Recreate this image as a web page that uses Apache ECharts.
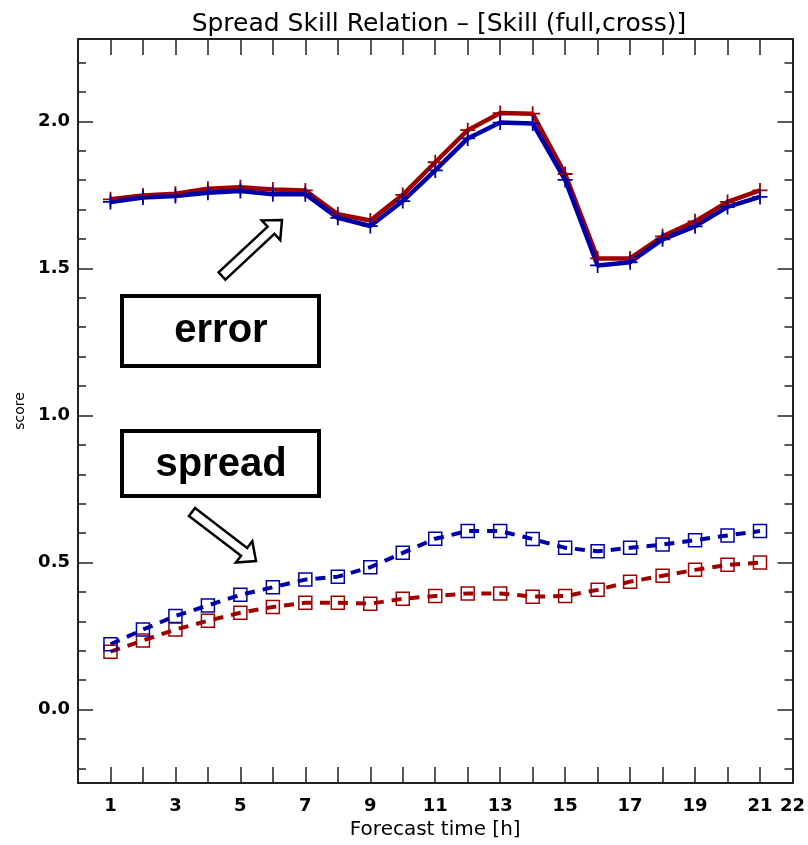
<!DOCTYPE html>
<html>
<head>
<meta charset="utf-8">
<script src="https://cdn.jsdelivr.net/npm/echarts@6/dist/echarts.min.js"></script>
<style>
  html, body { margin: 0; padding: 0; background: #ffffff; }
  #chart { width: 808px; height: 845px; }
</style>
</head>
<body>
<div id="chart"></div>
<script>
// forecast hours on the x axis
var hours = [1, 2, 3, 4, 5, 6, 7, 8, 9, 10, 11, 12, 13, 14, 15, 16, 17, 18, 19, 20, 21];

// error curves (solid, + markers)
var errorRed  = [1.735, 1.748, 1.754, 1.771, 1.776, 1.768, 1.765, 1.684, 1.663, 1.750, 1.861,
                 1.970, 2.028, 2.026, 1.821, 1.534, 1.534, 1.609, 1.660, 1.726, 1.765];
var errorBlue = [1.726, 1.741, 1.746, 1.757, 1.763, 1.752, 1.752, 1.672, 1.644, 1.729, 1.833,
                 1.942, 1.996, 1.993, 1.801, 1.510, 1.521, 1.599, 1.643, 1.709, 1.743];

// spread curves (dashed, square markers)
var spreadRed  = [0.197, 0.235, 0.272, 0.302, 0.329, 0.349, 0.363, 0.363, 0.360, 0.377, 0.386,
                  0.395, 0.395, 0.384, 0.386, 0.407, 0.435, 0.455, 0.475, 0.492, 0.500];
var spreadBlue = [0.222, 0.272, 0.318, 0.354, 0.390, 0.416, 0.442, 0.452, 0.484, 0.533, 0.581,
                  0.607, 0.607, 0.580, 0.550, 0.538, 0.550, 0.561, 0.576, 0.592, 0.607];

// tick labels
var xLabelValues = [1, 3, 5, 7, 9, 11, 13, 15, 17, 19, 21, 22];
var yLabelValues = [0, 0.5, 1.0, 1.5, 2.0];

var RED = '#a00000';
var BLUE = '#0000a8';
var FRAME = '#222222';
var PLUS = 'path://M4.4,0h1.2v10h-1.2z M0,4.4h10v1.2h-10z';

function pairs(xs, ys) {
  return xs.map(function (x, i) { return [x, ys[i]]; });
}

// hollow block arrow as a polygon
function arrowPoints(tail, tip, shaftW, headW, headL) {
  var dx = tip[0] - tail[0], dy = tip[1] - tail[1];
  var len = Math.sqrt(dx * dx + dy * dy);
  var ux = dx / len, uy = dy / len, nx = -uy, ny = ux;
  var bx = tip[0] - ux * headL, by = tip[1] - uy * headL;
  return [
    [tail[0] + nx * shaftW / 2, tail[1] + ny * shaftW / 2],
    [bx + nx * shaftW / 2, by + ny * shaftW / 2],
    [bx + nx * headW / 2, by + ny * headW / 2],
    tip,
    [bx - nx * headW / 2, by - ny * headW / 2],
    [bx - nx * shaftW / 2, by - ny * shaftW / 2],
    [tail[0] - nx * shaftW / 2, tail[1] - ny * shaftW / 2]
  ];
}

function xAxisBase(pos) {
  return {
    type: 'value',
    position: pos,
    min: 0,
    max: 22,
    interval: 1,
    axisLine: { show: true, onZero: false, lineStyle: { color: FRAME, width: 2 } },
    axisTick: { show: true, inside: true, length: 16, lineStyle: { color: FRAME, width: 1.5 } },
    splitLine: { show: false }
  };
}

function yAxisBase(pos) {
  return {
    type: 'value',
    position: pos,
    min: -0.25,
    max: 2.28,
    splitNumber: 5,
    axisLine: { show: true, onZero: false, lineStyle: { color: FRAME, width: 2 } },
    axisTick: { show: true, inside: true, length: 15, lineStyle: { color: FRAME, width: 1.5 } },
    minorTick: { show: true, splitNumber: 5, length: 8, lineStyle: { color: FRAME, width: 1.5 } },
    splitLine: { show: false },
    minorSplitLine: { show: false }
  };
}

var xBottom = xAxisBase('bottom');
xBottom.name = 'Forecast time [h]';
xBottom.nameLocation = 'middle';
xBottom.nameGap = 35;
xBottom.nameTextStyle = { fontFamily: 'DejaVu Sans', fontSize: 20, color: '#000' };
xBottom.axisLabel = {
  margin: 14,
  fontFamily: 'DejaVu Sans',
  fontSize: 18,
  fontWeight: 'bold',
  color: '#000',
  formatter: function (v) { return xLabelValues.indexOf(v) >= 0 ? String(v) : ''; }
};

var xTop = xAxisBase('top');
xTop.axisLabel = { show: false };

var yLeft = yAxisBase('left');
yLeft.name = 'score';
yLeft.nameLocation = 'middle';
yLeft.nameGap = 50;
yLeft.nameTextStyle = { fontFamily: 'DejaVu Sans', fontSize: 14, color: '#000' };
yLeft.axisLabel = {
  margin: 8,
  fontFamily: 'DejaVu Sans',
  fontSize: 18,
  fontWeight: 'bold',
  color: '#000',
  formatter: function (v) {
    for (var i = 0; i < yLabelValues.length; i++) {
      if (Math.abs(v - yLabelValues[i]) < 1e-6) return yLabelValues[i].toFixed(1);
    }
    return '';
  }
};

var yRight = yAxisBase('right');
yRight.axisLabel = { show: false };

var errorArrow = arrowPoints([222, 276], [282, 220], 10, 27, 15);
var spreadArrow = arrowPoints([192, 512], [256, 561], 10, 27, 15);

var option = {
  backgroundColor: '#ffffff',
  animation: false,
  title: {
    text: 'Spread Skill Relation \u2013 [Skill (full,cross)]',
    left: 434,
    textAlign: 'center',
    top: 7,
    textStyle: { fontFamily: 'DejaVu Sans', fontSize: 25, fontWeight: 'normal', color: '#000' }
  },
  grid: { left: 78, right: 14, top: 39, bottom: 60 },
  xAxis: [xBottom, xTop],
  yAxis: [yLeft, yRight],
  series: [
    {
      name: 'error red',
      type: 'line',
      data: pairs(hours, errorRed),
      symbol: PLUS,
      symbolSize: 15,
      showAllSymbol: true,
      lineStyle: { color: RED, width: 4.5 },
      itemStyle: { color: RED }
    },
    {
      name: 'error blue',
      type: 'line',
      data: pairs(hours, errorBlue),
      symbol: PLUS,
      symbolSize: 15,
      showAllSymbol: true,
      lineStyle: { color: BLUE, width: 4.5 },
      itemStyle: { color: BLUE }
    },
    {
      name: 'spread red',
      type: 'line',
      data: pairs(hours, spreadRed),
      symbol: 'rect',
      symbolSize: 13,
      showAllSymbol: true,
      lineStyle: { color: RED, width: 4, type: [10, 8] },
      itemStyle: { color: 'rgba(0,0,0,0)', borderColor: RED, borderWidth: 1.5 }
    },
    {
      name: 'spread blue',
      type: 'line',
      data: pairs(hours, spreadBlue),
      symbol: 'rect',
      symbolSize: 13,
      showAllSymbol: true,
      lineStyle: { color: BLUE, width: 4, type: [10, 8] },
      itemStyle: { color: 'rgba(0,0,0,0)', borderColor: BLUE, borderWidth: 1.5 }
    }
  ],
  graphic: [
    {
      type: 'rect',
      shape: { x: 122, y: 296, width: 197, height: 70 },
      style: { fill: '#fff', stroke: '#000', lineWidth: 4 },
      z: 100
    },
    {
      type: 'text',
      x: 221, y: 331,
      style: { text: 'error', fontFamily: 'Liberation Sans', fontWeight: 'bold', fontSize: 40,
               fill: '#000', align: 'center', verticalAlign: 'middle' },
      z: 101
    },
    {
      type: 'rect',
      shape: { x: 122, y: 431, width: 197, height: 65 },
      style: { fill: '#fff', stroke: '#000', lineWidth: 4 },
      z: 100
    },
    {
      type: 'text',
      x: 221, y: 465,
      style: { text: 'spread', fontFamily: 'Liberation Sans', fontWeight: 'bold', fontSize: 40,
               fill: '#000', align: 'center', verticalAlign: 'middle' },
      z: 101
    },
    {
      type: 'polygon',
      shape: { points: errorArrow },
      style: { fill: '#fff', stroke: '#000', lineWidth: 2.5 },
      z: 100
    },
    {
      type: 'polygon',
      shape: { points: spreadArrow },
      style: { fill: '#fff', stroke: '#000', lineWidth: 2.5 },
      z: 100
    }
  ]
};

var chart = echarts.init(document.getElementById('chart'), null, { renderer: 'canvas' });
chart.setOption(option);
</script>
</body>
</html>
